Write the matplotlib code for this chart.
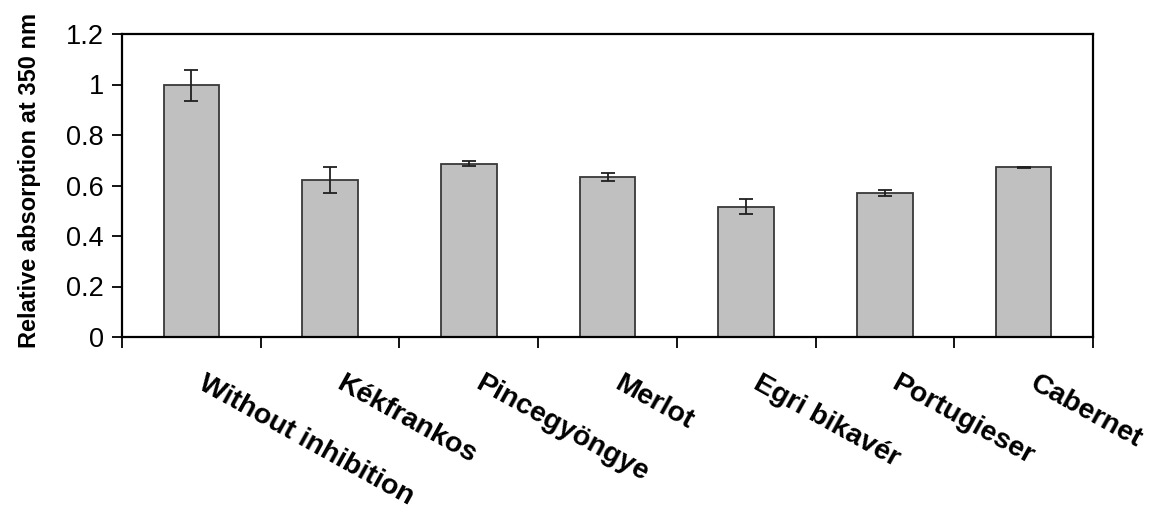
import matplotlib
matplotlib.use("Agg")
import matplotlib.pyplot as plt
from matplotlib.transforms import ScaledTranslation
import numpy as np

categories = ["Without inhibition", "Kékfrankos", "Pincegyöngye", "Merlot",
              "Egri bikavér", "Portugieser", "Cabernet"]
values = [0.997, 0.622, 0.687, 0.633, 0.516, 0.571, 0.672]
errors = [0.062, 0.050, 0.010, 0.015, 0.030, 0.012, 0.002]
yticks = [0, 0.2, 0.4, 0.6, 0.8, 1, 1.2]
ytick_labels = ["0", "0.2", "0.4", "0.6", "0.8", "1", "1.2"]

plt.rcParams['font.family'] = ['Liberation Sans', 'DejaVu Sans']

fig = plt.figure(figsize=(11.6, 5.17), dpi=100)
ax = fig.add_axes([122/1160, 1 - 337/517, (1093-122)/1160, (337-34)/517])

x = np.arange(len(categories))
ax.bar(x, values, width=0.4, color="#c0c0c0", edgecolor="#383838", linewidth=1.3,
       yerr=errors, capsize=5, error_kw=dict(ecolor="#202020", elinewidth=1.3, capthick=1.3),
       zorder=2)

ax.set_xlim(-0.5, len(categories) - 0.5)
ax.set_ylim(0, 1.2)
ax.set_yticks(yticks)
ax.set_yticklabels(ytick_labels, fontsize=19.5)
ax.tick_params(axis='y', direction='out', length=7, width=1.3, pad=6)

ax.set_xticks(x)
ax.set_xticklabels(categories, rotation=-29, ha='left', rotation_mode='anchor',
                   fontsize=20.5, fontweight='bold')
ax.tick_params(axis='x', which='major', length=0, pad=24)
offset = ScaledTranslation(15/100, 0, fig.dpi_scale_trans)
for lab in ax.get_xticklabels():
    lab.set_transform(lab.get_transform() + offset)
ax.set_xticks(np.arange(-0.5, len(categories), 1.0), minor=True)
ax.tick_params(axis='x', which='minor', direction='out', length=8, width=1.3)

for s in ax.spines.values():
    s.set_linewidth(1.6)
    s.set_color("black")

fig.text(30/1160, 1 - 180/517, "Relative absorption at 350 nm", rotation=90,
         ha='center', va='center', fontsize=17, fontweight='bold')

fig.savefig("out.png", dpi=100)
